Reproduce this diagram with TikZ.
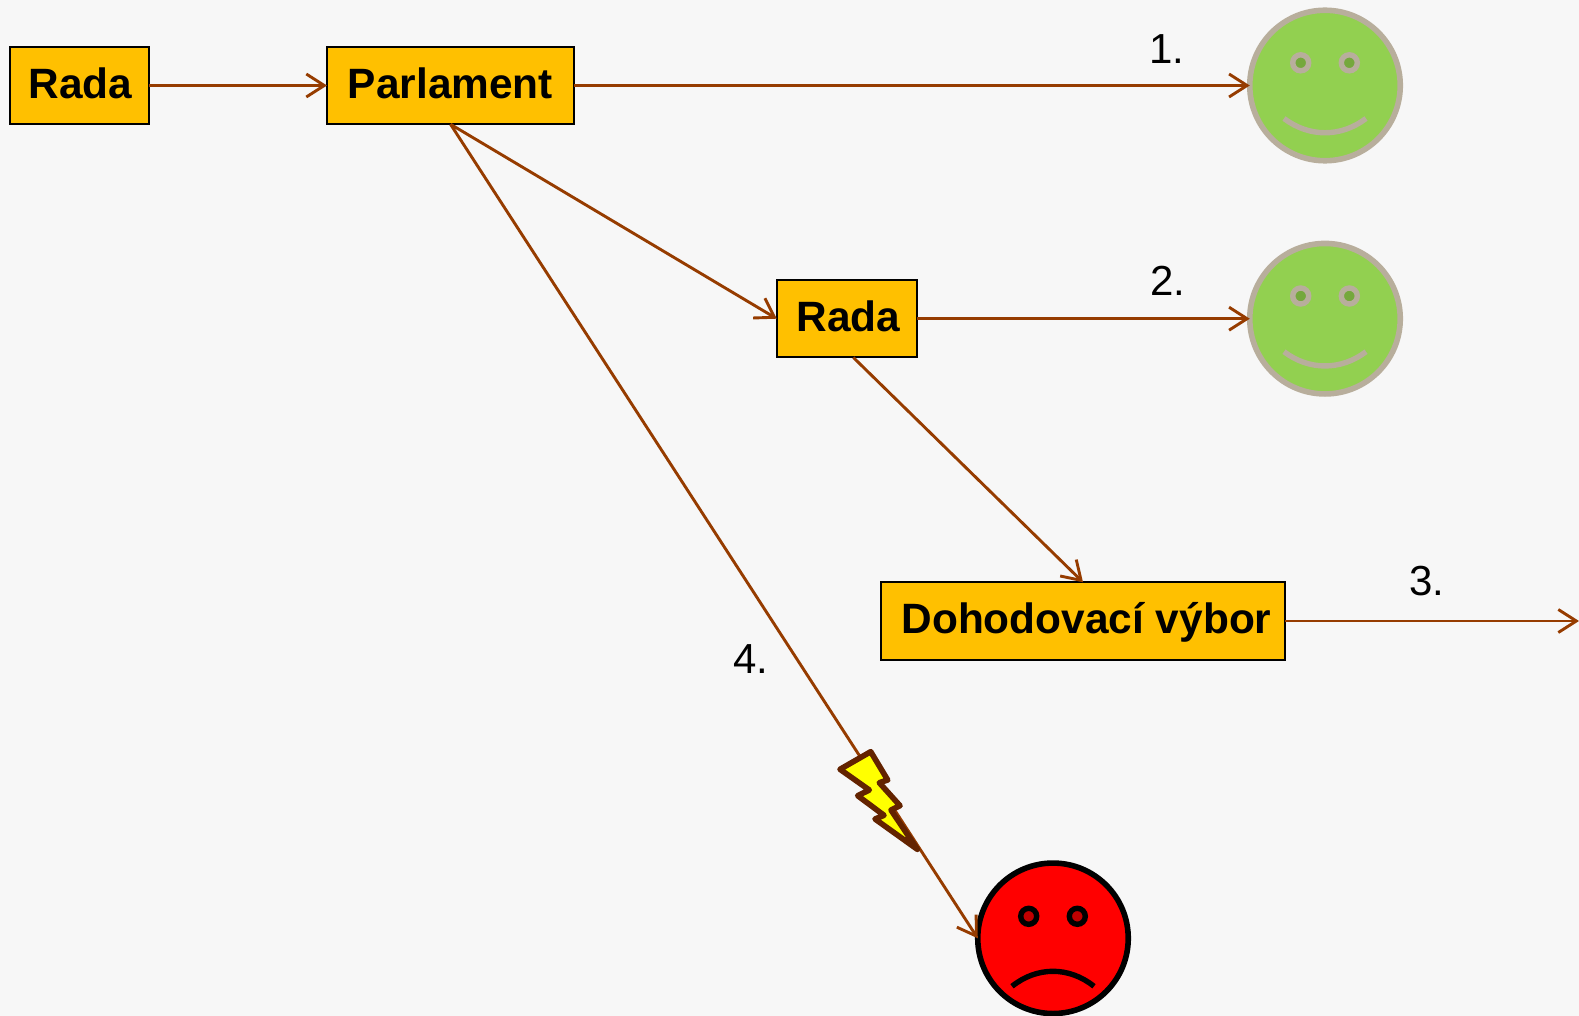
\documentclass[tikz,border=0pt]{standalone}
\usepackage{fontspec}
\setmainfont{Liberation Sans}
\usetikzlibrary{arrows.meta}
\definecolor{bgc}{HTML}{F7F7F7}
\definecolor{boxc}{HTML}{FFC000}
\definecolor{linec}{HTML}{963C00}
\definecolor{happy}{HTML}{92D050}
\definecolor{happyline}{HTML}{B8AE9C}
\definecolor{happyeye}{HTML}{75A83C}
\definecolor{sadeye}{HTML}{C00000}
\definecolor{sadfill}{HTML}{FF0000}
\definecolor{boltfill}{HTML}{FFFF00}
\definecolor{boltline}{HTML}{632300}
\tikzset{
  boxn/.style={draw=black,fill=boxc,line width=2pt,inner sep=0pt,outer sep=0pt,minimum height=77.5pt,
    text height=25.6pt,text depth=0pt,
    font=\fontsize{42.4}{50}\selectfont\bfseries,text=black},
  conn/.style={draw=linec,line width=2.9pt,-{Straight Barb[length=18pt,width=23pt,line width=2.9pt]}},
  facen/.style={circle,line width=5.6pt,inner sep=0pt,outer sep=0pt,minimum size=150.5pt},
  happyface/.style={facen,draw=happyline,fill=happy},
  sadface/.style={facen,draw=black,fill=sadfill},
  eyen/.style={circle,line width=5.4pt,inner sep=0pt,outer sep=0pt,minimum size=16pt},
  lbl/.style={font=\fontsize{42}{50}\selectfont,text=black,inner sep=0pt},
  mouth/.style={line width=5.4pt}
}
\begin{document}
\begin{tikzpicture}[x=1pt,y=-1pt]
\useasboundingbox (0,0) rectangle (1579,1016);
\fill[bgc] (0,0) rectangle (1579,1016);
\node[boxn,minimum width=139.5pt] (r1) at (79.3,85.5) {\hspace*{2pt}Rada};
\node[boxn,minimum width=247pt] (p) at (450.5,85.5) {Parlament};
\node[boxn,minimum width=140.5pt] (r2) at (847,318.7) {\hspace*{3pt}Rada};
\node[boxn,minimum width=404pt] (d) at (1083,621) {\hspace*{7pt}Dohodovací výbor};
\node[happyface] (h1) at (1325,85.5) {};
\node[happyface] (h2) at (1325,318.7) {};
\node[sadface] (s) at (1053,938.3) {};
\coordinate (e) at (1579,621);
\foreach \f in {h1,h2}{
  \node[eyen,draw=happyline,fill=happyeye] (\f a) at ([shift={(-24.3,-22.7)}]\f.center) {};
  \node[eyen,draw=happyline,fill=happyeye] (\f b) at ([shift={(24.3,-22.7)}]\f.center) {};
  \draw[happyline,mouth] ([shift={(-41,33)}]\f.center) .. controls ([shift={(-16,52)}]\f.center) and ([shift={(16,52)}]\f.center) .. ([shift={(41,33)}]\f.center);
}
\node[eyen,draw=black,fill=sadeye] (sa) at ([shift={(-24.3,-22)}]s.center) {};
\node[eyen,draw=black,fill=sadeye] (sb) at ([shift={(24.3,-22)}]s.center) {};
\draw[black,mouth] ([shift={(-41,48)}]s.center) .. controls ([shift={(-16,28)}]s.center) and ([shift={(16,28)}]s.center) .. ([shift={(41,48)}]s.center);
\draw[conn] (r1.east) -- (p.west);
\draw[conn] (p.east) -- (h1.west);
\draw[conn] (p.south) -- (r2.west);
\draw[conn] (r2.east) -- (h2.west);
\draw[conn] ([xshift=6.3pt]r2.south) -- (d.north);
\draw[conn] (d.east) -- (e);
\draw[conn] (p.south) -- (s.west);
\filldraw[draw=boltline,fill=boltfill,line width=5.6pt,line join=round]
  (840,769.3) -- (870.7,751.7) -- (887.7,780) -- (879.3,782.7) -- (900,805.7) -- (891,810) -- (917.3,849.3) -- (875,819) -- (884,815.3) -- (857.7,795.7) -- (869.3,790) -- cycle;
\node[lbl] (l1) at (1167,49.5) {1.};
\node[lbl] (l2) at (1168,280.5) {2.};
\node[lbl] (l3) at (1426.5,581.5) {3.};
\node[lbl] (l4) at (751,658.6) {4.};
\end{tikzpicture}
\end{document}
